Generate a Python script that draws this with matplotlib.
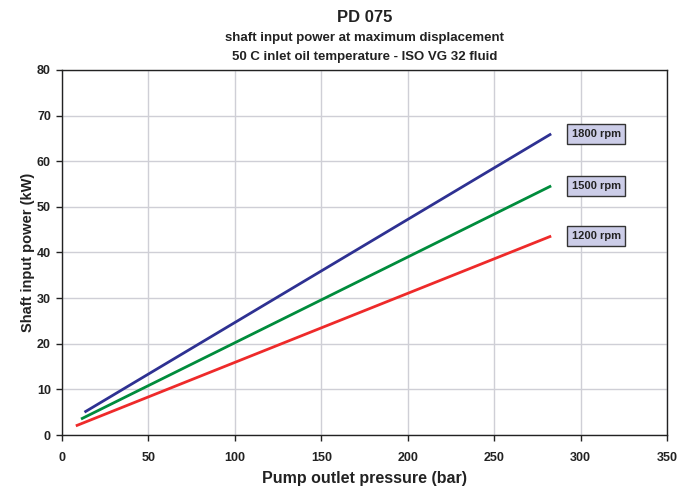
import matplotlib
matplotlib.use("Agg")
import matplotlib.pyplot as plt

plt.rcParams['font.family'] = ['Liberation Sans', 'DejaVu Sans']

# Data (pressure in bar, power in kW) - straight lines, start and end points
series_names = ["1800 rpm", "1500 rpm", "1200 rpm"]
x_1800 = [13, 283]
y_1800 = [5.0, 66.0]
x_1500 = [11, 283]
y_1500 = [3.5, 54.6]
x_1200 = [8, 283]
y_1200 = [2.0, 43.6]
label_x = 309
colors = ["#2E3192", "#008C3C", "#EE2A2A"]

x_ticks = [0, 50, 100, 150, 200, 250, 300, 350]
y_ticks = [0, 10, 20, 30, 40, 50, 60, 70, 80]

fig = plt.figure(figsize=(6.93, 4.91), dpi=100)
ax = fig.add_axes([62/693, 1-435/491, (667-62)/693, (435-70)/491])

for xs, ys, c, name in zip([x_1800, x_1500, x_1200], [y_1800, y_1500, y_1200], colors, series_names):
    ax.plot(xs, ys, color=c, lw=2, solid_capstyle='butt', zorder=3)
    ax.text(label_x, ys[-1], name, ha='center', va='center', fontsize=8, fontweight='bold',
            color='#222222', zorder=4,
            bbox=dict(boxstyle='square,pad=0.42', facecolor='#CCCDE8', edgecolor='#333333', lw=1))

ax.set_xlim(0, 350)
ax.set_ylim(0, 80)
ax.set_xticks(x_ticks)
ax.set_yticks(y_ticks)
ax.grid(True, color='#CFCFD6', lw=1)
ax.set_axisbelow(True)
for s in ax.spines.values():
    s.set_color('#222222')
    s.set_linewidth(1)
ax.tick_params(direction='out', length=4, width=1, colors='#222222', labelsize=9)
for lbl in ax.get_xticklabels() + ax.get_yticklabels():
    lbl.set_fontweight('bold')
ax.tick_params(axis='x', pad=8)
ax.tick_params(axis='y', pad=4)

ax.set_xlabel("Pump outlet pressure (bar)", fontsize=11.5, fontweight='bold', color='#222222', labelpad=5)
ax.set_ylabel("Shaft input power (kW)", fontsize=10.5, fontweight='bold', color='#222222', labelpad=1.5)

cx = 364.5/693
fig.text(cx, 1-17/491, "PD 075", ha='center', va='center', fontsize=12, fontweight='bold', color='#222222')
fig.text(cx, 1-38/491, "shaft input power at maximum displacement", ha='center', va='center', fontsize=9.5, fontweight='bold', color='#222222')
fig.text(cx, 1-57/491, "50 C inlet oil temperature - ISO VG 32 fluid", ha='center', va='center', fontsize=9.5, fontweight='bold', color='#222222')

fig.savefig("out.png", dpi=100)
